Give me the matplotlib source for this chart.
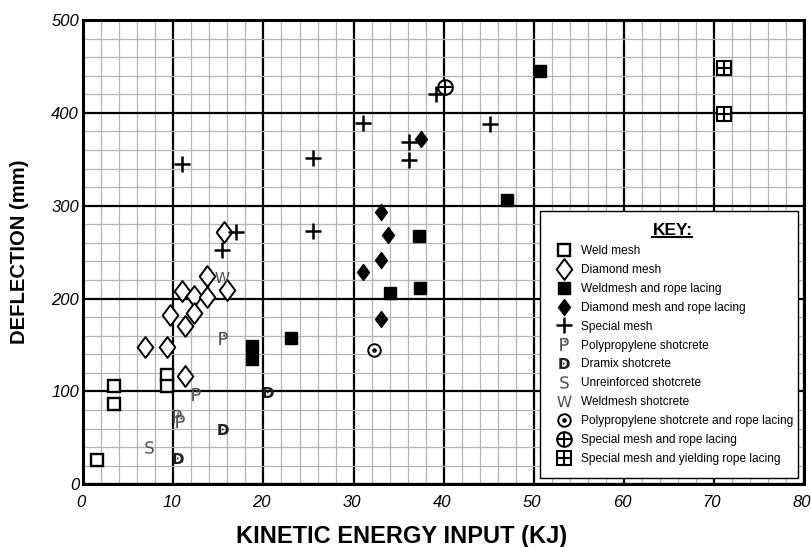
import numpy as np
import matplotlib
matplotlib.use("Agg")
import matplotlib.pyplot as plt
import matplotlib.transforms as mtransforms
from matplotlib.lines import Line2D
from matplotlib.patches import Rectangle
from matplotlib.path import Path
from matplotlib.textpath import TextPath
from matplotlib.font_manager import FontProperties
from matplotlib.ticker import MultipleLocator

plt.rcParams['font.family'] = ['Liberation Sans', 'DejaVu Sans']

# --- Data (kinetic energy kJ, deflection mm) ---
weld_x = [1.5, 3.4, 3.4, 9.3, 9.3]
weld_y = [26, 106, 86, 118, 106]

diamond_x = [6.8, 9.3, 9.6, 11.0, 11.3, 11.3, 12.3, 12.3, 13.7, 13.7, 15.9, 15.6]
diamond_y = [148, 148, 182, 208, 171, 117, 203, 184, 224, 202, 209, 272]

weld_rope_x = [18.7, 18.7, 23.0, 34.0, 37.4, 37.3, 47.0, 50.7]
weld_rope_y = [149, 135, 158, 206, 211, 267, 306, 445]

diamond_rope_x = [31.0, 33.0, 33.8, 33.0, 33.0, 37.5]
diamond_rope_y = [229, 242, 269, 293, 178, 372]

special_x = [11.0, 15.4, 17.0, 25.5, 25.5, 31.1, 36.1, 36.1, 39.1, 45.1]
special_y = [345, 252, 272, 351, 273, 389, 369, 349, 420, 388]

poly_x = [15.5, 12.5, 10.4, 10.7]
poly_y = [158, 97, 74, 68]

dramix_x = [20.5, 15.5, 10.5]
dramix_y = [99, 60, 28]

unreinf_x = [7.3]
unreinf_y = [40]

weldshot_x = [15.4]
weldshot_y = [223]

poly_rope_x = [32.3]
poly_rope_y = [145]

special_rope_x = [40.2]
special_rope_y = [428]

yield_rope_x = [71.1, 71.1]
yield_rope_y = [448, 399]

labels = ["Weld mesh", "Diamond mesh", "Weldmesh and rope lacing",
          "Diamond mesh and rope lacing", "Special mesh", "Polypropylene shotcrete",
          "Dramix shotcrete", "Unreinforced shotcrete", "Weldmesh shotcrete",
          "Polypropylene shotcrete and rope lacing", "Special mesh and rope lacing",
          "Special mesh and yielding rope lacing"]


def letter_marker(ch, dot=None, weight='normal'):
    """Letter outline as a marker path, optionally with a dot inside."""
    tp = TextPath((0, 0), ch, size=1, prop=FontProperties(family='DejaVu Sans', weight=weight))
    ext = tp.get_extents()
    cx, cy = (ext.x0 + ext.x1) / 2, (ext.y0 + ext.y1) / 2
    paths = [Path(tp.vertices - [cx, cy], tp.codes)]
    if dot is not None:
        dx = ext.x0 + dot[0] * ext.width - cx
        dy = ext.y0 + dot[1] * ext.height - cy
        paths.append(Path.circle((dx, dy), 0.09 * ext.height))
    return Path.make_compound_path(*paths)


tall_diamond = Path([(0, 1), (0.75, 0), (0, -1), (-0.75, 0), (0, 1)],
                    [Path.MOVETO, Path.LINETO, Path.LINETO, Path.LINETO, Path.CLOSEPOLY])
p_marker = letter_marker("P", dot=(0.6, 0.72))
d_marker = letter_marker("D", dot=(0.42, 0.5), weight='bold')
s_marker = letter_marker("S")
w_marker = letter_marker("W")

fig = plt.figure(figsize=(8.11, 5.47), dpi=100)
ax = fig.add_axes([0.1027, 0.1146, 0.8887, 0.8488])

open_kw = dict(linestyle='none', markerfacecolor='white', markeredgecolor='black')
styles = [
    [dict(marker='s', markersize=8.5, markeredgewidth=1.7, **open_kw)],
    [dict(marker=tall_diamond, markersize=15, markeredgewidth=1.4, **open_kw)],
    [dict(marker='s', markersize=8, color='black', linestyle='none')],
    [dict(marker=tall_diamond, markersize=11.5, color='black', linestyle='none')],
    [dict(marker='+', markersize=12, markeredgewidth=1.8, color='black', linestyle='none')],
    [dict(marker=p_marker, markersize=9.5, color='#505050', markeredgewidth=0, linestyle='none')],
    [dict(marker=d_marker, markersize=9.5, color='#202020', markeredgewidth=0, linestyle='none')],
    [dict(marker=s_marker, markersize=9, color='#505050', markeredgewidth=0, linestyle='none')],
    [dict(marker=w_marker, markersize=11, color='#505050', markeredgewidth=0, linestyle='none')],
    [dict(marker='o', markersize=9, markeredgewidth=1.4, **open_kw),
     dict(marker='o', markersize=2.3, color='black', linestyle='none')],
    [dict(marker='o', markersize=10.5, markeredgewidth=1.5, **open_kw),
     dict(marker='+', markersize=10.5, markeredgewidth=1.5, color='black', linestyle='none')],
    [dict(marker='s', markersize=10.5, markeredgewidth=1.5, **open_kw),
     dict(marker='+', markersize=10.5, markeredgewidth=1.5, color='black', linestyle='none')],
]
series = [(weld_x, weld_y), (diamond_x, diamond_y), (weld_rope_x, weld_rope_y),
          (diamond_rope_x, diamond_rope_y), (special_x, special_y), (poly_x, poly_y),
          (dramix_x, dramix_y), (unreinf_x, unreinf_y), (weldshot_x, weldshot_y),
          (poly_rope_x, poly_rope_y), (special_rope_x, special_rope_y),
          (yield_rope_x, yield_rope_y)]

handles = []
for (xs, ys), layers in zip(series, styles):
    parts = []
    for kw in layers:
        line, = ax.plot(xs, ys, zorder=5, clip_on=False, **kw)
        parts.append(line)
    handles.append(tuple(parts) if len(parts) > 1 else parts[0])

ax.set_xlim(0, 80)
ax.set_ylim(0, 500)
ax.xaxis.set_major_locator(MultipleLocator(10))
ax.xaxis.set_minor_locator(MultipleLocator(2))
ax.yaxis.set_major_locator(MultipleLocator(100))
ax.yaxis.set_minor_locator(MultipleLocator(20))
ax.grid(which='minor', color='#b5b5b5', linewidth=0.9)
ax.grid(which='major', color='black', linewidth=1.6)
ax.set_axisbelow(True)
ax.tick_params(which='both', length=0, labelsize=12)
ax.tick_params(axis='x', pad=8)
ax.tick_params(axis='y', pad=3)
shift = mtransforms.ScaledTranslation(-2 / 100, 0, fig.dpi_scale_trans)
for lab in ax.get_xticklabels():
    lab.set_fontstyle('italic')
    lab.set_transform(lab.get_transform() + shift)
for lab in ax.get_yticklabels():
    lab.set_fontstyle('italic')
for sp in ax.spines.values():
    sp.set_linewidth(2.2)

ax.set_xlabel("KINETIC ENERGY INPUT (KJ)", fontsize=17, fontweight='bold')
ax.xaxis.label.set_va('center')
ax.xaxis.set_label_coords(0.441, -0.113)
ax.set_ylabel("DEFLECTION (mm)", fontsize=14.6, fontweight='bold', labelpad=16)

# key box
ax.add_patch(Rectangle((0.6337, 0.0136), 0.358, 0.575, transform=ax.transAxes,
                       facecolor='white', edgecolor='black', linewidth=1.0,
                       zorder=9, clip_on=False))

leg = ax.legend(handles, labels, loc='upper right', bbox_to_anchor=(0.9925, 0.5744),
                fontsize=8.6, title="KEY:", title_fontproperties={'weight': 'bold', 'size': 12.5},
                frameon=False, labelspacing=0.58, handletextpad=0.45, borderpad=0.45,
                handlelength=2.0, borderaxespad=0)
leg.set_zorder(10)

# underline the key title
fig.canvas.draw()
bb = leg.get_title().get_window_extent().transformed(fig.transFigure.inverted())
fig.add_artist(Line2D([bb.x0, bb.x1], [bb.y0 + 0.002, bb.y0 + 0.002],
                      transform=fig.transFigure, color='black', linewidth=1.5, zorder=11))

fig.savefig("out.png", dpi=100)
